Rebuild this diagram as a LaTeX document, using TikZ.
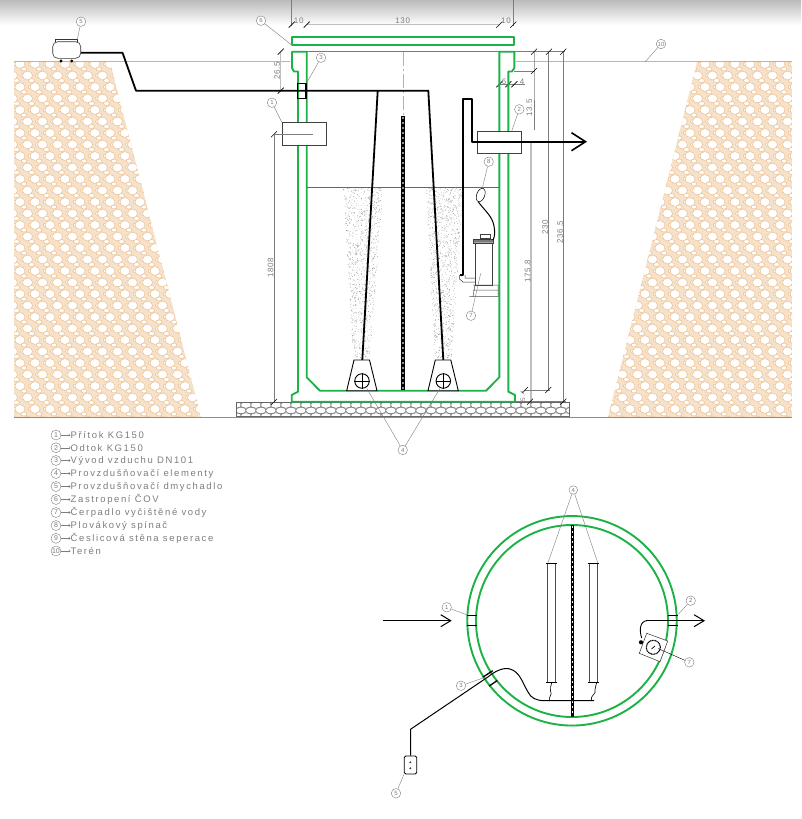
\documentclass[tikz,border=0pt]{standalone}
\usepackage{fontspec}
\setmainfont{Liberation Sans}
\newfontfamily\cadfont[LetterSpace=9]{Liberation Sans}
\newfontfamily\listfont[LetterSpace=17]{Liberation Sans}
\usetikzlibrary{arrows.meta,shapes.geometric}
\definecolor{tank}{RGB}{28,178,70}
\definecolor{soil}{RGB}{236,190,140}
\definecolor{terrain}{RGB}{230,170,120}
\definecolor{cad}{RGB}{125,125,125}
\newcommand{\cobbles}[8]{%
  \foreach \r in {0,...,#1} {
    \foreach \c in {0,...,#2} {
      \pgfmathsetmacro{\px}{#3 + \c*#5 + mod(\r,2)*#5/2}
      \pgfmathsetmacro{\py}{#4 + \r*#6}
      \filldraw [fill = white] (\px,\py) ellipse [x radius=#7, y radius=#8];
    }
  }
}
\begin{document}
\begin{tikzpicture}[
    , x = 1pt
    , y = -1pt
    , wall/.style = {draw = tank, line width = 1.9pt, line join = round}
    , pipe/.style = {draw = black, line width = 1.8pt, line join = round}
    , dimline/.style = {draw = cad, line width = .45pt}
    , tick/.style = {draw = black, line width = .6pt}
    , lead/.style = {draw = cad, line width = .4pt}
    , tag/.style = {
      , draw = cad
      , circle
      , line width = .4pt
      , fill = white
      , inner sep = 0pt
      , minimum size = 9.5pt
      , text = cad
      , font = \fontsize{6}{6}\selectfont
    }
    , dimtext/.style = {text = cad, font = \fontsize{8}{8}\cadfont, inner sep = 0pt}
    , flow/.style = {pipe, -{Straight Barb[length = 14pt, width = 18pt, line width = 1.6pt]}}
    , box/.style = {draw = black!75, line width = .6pt, fill = white, inner sep = 0pt}
    , stone/.style = {draw = soil, line width = .5pt}
  ]
  \useasboundingbox (0,0) rectangle (801,819);
  \shade [top color = black!27, bottom color = white] (0,0) rectangle (801,25);

  % soil
  \begin{scope}[stone]
    \clip (14,62) -- (110,62) -- (201,417) -- (14,417) -- cycle;
    \fill [soil!45] (14,62) rectangle (201,417);
    \cobbles{31}{13}{9}{69}{15}{11.5}{3}{2}
    \cobbles{31}{13}{16}{64}{15}{11.5}{3}{2}
    \cobbles{31}{13}{5}{64}{15}{11.5}{5}{4.4}
  \end{scope}
  \begin{scope}[stone]
    \clip (697,62) -- (792,62) -- (792,417) -- (608,417) -- cycle;
    \fill [soil!45] (608,62) rectangle (792,417);
    \cobbles{31}{13}{604}{69}{15}{11.5}{3}{2}
    \cobbles{31}{13}{611}{64}{15}{11.5}{3}{2}
    \cobbles{31}{13}{600}{64}{15}{11.5}{5}{4.4}
  \end{scope}
  \draw [terrain, line width = .6pt] (14,61.5) -- (290,61.5) (516,61.5) -- (792,61.5);

  % base slab
  \begin{scope}[draw = black!60, line width = .45pt]
    \clip (236.7,402.3) rectangle (569.3,416.7);
    \cobbles{2}{34}{236}{405}{10}{5.5}{5.4}{3.2}
  \end{scope}
  \draw [black!60, line width = .5pt] (236.7,402.3) rectangle (569.3,416.7);
  \draw [black!45, line width = .6pt] (14,417) -- (792,417);

  % dimensions
  \draw [dimline] (291.7,0) -- (291.7,26) (513.3,0) -- (513.3,26);
  \draw [dimline, black!25, line width = 1pt] (306.7,24.7) -- (499.3,24.7);
  \draw [dimline, black!25] (280.7,51.7) -- (280.7,90.7);
  \draw [dimline] (514,51.7) -- (565,51.7) (514,71) -- (535,71) (499,84.3) -- (525,84.3);
  \draw [dimline] (534,51.7) -- (534,71) -- (534,130);
  \draw [dimline, black!25, line width = 1.2pt] (531,141.7) -- (531,401.7);
  \draw [dimline] (548.3,51.7) -- (548.3,390) (563.3,51.7) -- (563.3,401.7);
  \draw [dimline] (525,390) -- (550,390) (515,401.7) -- (566,401.7);
  \draw [dimline] (274,134.3) -- (274,402);
  \foreach \p in {(291.7,24.7),(306.7,24.7),(499.3,24.7),(513.3,24.7),(280.7,51.7),(280.7,90.7),
    (534,51.7),(549,51.7),(563.3,51.7),(534,71),(499.3,84.3),(508.3,84.3),(514.3,84.3),
    (274,134.3),(274,402),(525,390),(548.3,390),(530,401.7),(563.3,401.7)}
    \draw [tick] \p +(-3,3) -- +(3,-3);
  \node (d10a) [dimtext] at (298.7,21) {10};
  \node (d130) [dimtext] at (402.7,21) {130};
  \node (d10b) [dimtext] at (506,21) {10};
  \node (d265) [dimtext, rotate = 90] at (277,71) {26.5};
  \node (d6) [dimtext] at (504,81.5) {6};
  \node (d4) [dimtext] at (522,81.5) {4};
  \node (d135) [dimtext, rotate = 90] at (529.3,108) {13.5};
  \node (d1758) [dimtext, rotate = 90] at (527.5,271) {175.8};
  \node (d230) [dimtext, rotate = 90] at (545,227) {230};
  \node (d2365) [dimtext, rotate = 90] at (560,232) {236.5};
  \node (d1808) [dimtext, rotate = 90] at (270.5,268) {1808};
  \node (d54) [dimtext, rotate = 90, font = \fontsize{6.5}{6.5}\cadfont] at (523,396) {5.4};

  % aeration bubbles
  \pgfmathsetseed{4242}
  \begin{scope}
    \clip (343.3,188) -- (383.3,188) -- (370,358) -- (353.3,358) -- cycle;
    \foreach \i in {1,...,1500}
      \fill [black!55] (343+40*rnd,188+170*rnd) circle [radius = .3pt];
  \end{scope}
  \begin{scope}
    \clip (425.7,188) -- (463.3,188) -- (451.7,358) -- (435,358) -- cycle;
    \foreach \i in {1,...,1500}
      \fill [black!55] (425+39*rnd,188+170*rnd) circle [radius = .3pt];
  \end{scope}

  % tank
  \draw [wall] (291.7,37.3) rectangle (514,45.3);
  \draw [wall, line width = 1.2pt] (292,51.7) -- (514,51.7);
  \draw [wall] (306.7,377.3) -- (306.7,51.7) -- (292,51.7) -- (292,68) -- (294,71.5) -- (298,71.5)
    -- (298,391.7) -- (291.7,395) -- (291.7,401.7) -- (515,401.7) -- (515,395) -- (508.3,391.7)
    -- (508.3,71.5) -- (512,71.5) -- (514.3,68) -- (514.3,51.7) -- (499.3,51.7) -- (499.3,377.3)
    -- (486,390.7) -- (320,390.7) -- cycle;
  \draw [black!60, line width = .5pt] (307,187.5) -- (499,187.5);
  \draw [black!30, line width = .8pt, dash pattern = on 14pt off 3pt on 2pt off 3pt] (403,52) -- (403,115);

  % separation wall
  \draw [black, line width = 3.6pt] (403,116) -- (403,390);
  \draw [black!45, line width = 1.6pt, dash pattern = on 2pt off 3pt] (403,117) -- (403,389);

  % air line
  \coordinate (blowerout) at (81,52.7);
  \draw [pipe] (blowerout) -- (122.5,52.7) -- (136,90.7) -- (428.3,90.7) -- (443.3,360);
  \draw [pipe] (377.7,90.7) -- (362.3,360);
  \node (vent) [draw = black, line width = 1.1pt, minimum width = 8.5pt, minimum height = 15pt, inner sep = 0pt] at (301.7,91.2) {};

  % aerators
  \foreach \n/\cx in {a/362,b/443.3} {
    \draw [draw = black, line width = .9pt, fill = white] (\cx-8,360) -- (\cx+7.5,360) -- (\cx+15,390.7) -- (\cx-15.3,390.7) -- cycle;
    \node (aer\n) [draw = black, line width = .9pt, circle, inner sep = 0pt, minimum size = 14.5pt] at (\cx,381) {};
    \draw [black, line width = .9pt] (aer\n.north) -- (aer\n.south) (aer\n.west) -- (aer\n.east);
  }

  % pump and outlet
  \node (box1) [box, minimum width = 44.7pt, minimum height = 22.7pt] at (304.3,133.6) {};
  \draw [dimline] (274,134.3) -- (313,134.3);
  \node (box2) [box, minimum width = 44.4pt, minimum height = 22.4pt] at (499.5,142.5) {};
  \coordinate (outend) at (587,141.7);
  \draw [pipe] (460,275) -- (462.7,275) -- (462.7,98.7) -- (471.7,98.7) -- (471.7,141.7) -- (560,141.7);
  \draw [flow] (471.7,141.7) -- (outend);
  \node (float) [draw = black, line width = .5pt, ellipse, fill = white, rotate = -20, minimum width = 8pt, minimum height = 14pt, inner sep = 0pt] at (480.7,195) {};
  \node (pump) [box, minimum width = 17pt, minimum height = 42pt] at (483.5,264) {};
  \draw [box] (480,234.3) rectangle (490,238.5);
  \draw [box] (473,239) rectangle (493,243);
  \foreach \h in {474,...,492} \draw [black!80, line width = .4pt] (\h,243) -- (\h+1,239);
  \draw [black!70, line width = .5pt] (473,285) -- (498,285) (473,290) -- (498,290) (469.3,296.7) -- (498,296.7) (475,285) -- (473,296.7) (498,285) -- (498,296.7);
  \draw [black!80, line width = .5pt] (459.5,275) -- (459.5,279) -- (463,282) -- (475,282) (465,275) -- (465,278) -- (475,278);
  \draw [black, line width = 1pt] (float.south) .. controls (486,212) and (492,216) .. (494,226) .. controls (495,232) and (495,236) .. (493,240);

  % callouts side view
  \node (t6) [tag] at (261,20.7) {6};
  \coordinate (p6) at (291.7,45);
  \draw [lead] (t6) -- (p6);
  \node (t3) [tag] at (321,57.7) {3};
  \draw [lead] (t3) -- (vent.north east);
  \node (t1) [tag] at (272,102.7) {1};
  \draw [lead] (t1) -- (box1.north west);
  \node (t2) [tag] at (519.3,109.3) {2};
  \coordinate (p2) at (511.7,131);
  \draw [lead] (t2) -- (p2);
  \node (t8) [tag] at (488.7,161.7) {8};
  \draw [lead] (t8) -- (float);
  \node (t7) [tag] at (471,315.7) {7};
  \coordinate (p7) at (480.7,273.3);
  \draw [lead] (t7) -- (p7);
  \node (t4) [tag] at (402.7,450) {4};
  \coordinate (p4a) at (366.7,388.3);
  \coordinate (p4b) at (440,388.3);
  \draw [lead] (t4) -- (p4a) (t4) -- (p4b);
  \node (t10) [tag] at (661,44) {10};
  \coordinate (p10) at (645,62);
  \draw [lead] (t10) -- (p10);

  % blower
  \node (blower) [draw = black!80, line width = .6pt, fill = white, rounded corners = 5pt, minimum width = 28pt, minimum height = 16.6pt, inner sep = 0pt] at (66.7,50) {};
  \draw [black!80, line width = .6pt] (55,41.7) -- (55,39.3) -- (77,39.3) -- (77,41.7);
  \fill [black] (61,61) circle [radius = 1.6pt] (71.7,61) circle [radius = 1.6pt];
  \node (t5) [tag] at (81,21.7) {5};
  \coordinate (p5) at (77.3,39.3);
  \draw [lead] (t5) -- (p5);

  % legend
  \foreach \n/\y/\txt in {
    1/435/Přítok KG150,
    2/447.7/Odtok KG150,
    3/460.5/Vývod vzduchu DN101,
    4/473.5/Provzdušňovačí elementy,
    5/486.5/Provzdušňovačí dmychadlo,
    6/499.5/Zastropení ČOV,
    7/512.5/Čerpadlo vyčištěné vody,
    8/525.5/Plovákový spínač,
    9/538.3/Česlicová stěna seperace,
    10/551/Terén} {
    \node (lg\n) [tag, minimum size = 10pt, font = \fontsize{7}{7}\selectfont] at (56,\y) {\n};
    \node (tx\n) [anchor = west, inner sep = 0pt, text = cad, font = \fontsize{9.5}{9.5}\listfont] at (70.5,\y) {\txt};
    \draw [lead, -{To[length = 2pt, width = 3pt]}] (lg\n) -- (tx\n);
  }

  % plan view
  \node (outer) [wall, circle, inner sep = 0pt, minimum size = 209.5pt] at (572,620.8) {};
  \node (inner) [wall, circle, inner sep = 0pt, minimum size = 192pt] at (572,621) {};
  \draw [black, line width = 3.2pt] (572.3,525) -- (572.3,717.3);
  \draw [white, line width = .9pt, dash pattern = on 2pt off 3pt] (572.3,526) -- (572.3,716);

  \draw [black!70, line width = .7pt] (547.7,563.3) rectangle (555.3,682.7) (589.3,563.3) rectangle (597.3,682.7);
  \draw [black, line width = 1.5pt] (546,563.3) -- (556.7,563.3) (546,682.7) -- (556.7,682.7) (587.7,563.3) -- (599,563.3) (587.7,682.7) -- (599,682.7);
  \node (u4) [tag, minimum size = 8.5pt] at (573.3,490) {4};
  \coordinate (q4a) at (548,562.7);
  \coordinate (q4b) at (597.7,562.7);
  \draw [lead] (u4) -- (q4a) (u4) -- (q4b);

  \coordinate (inA) at (382.7,620.7);
  \coordinate (inB) at (451.7,620.7);
  \draw [flow, line width = 1.2pt, -{Straight Barb[length = 10pt, width = 12pt, line width = 1pt]}] (inA) -- (inB);
  \draw [black, line width = 1.3pt] (467,615.7) -- (477,615.7) (467,625.7) -- (477,625.7) (668,615.7) -- (677.5,615.7) (668,625.7) -- (677.5,625.7);
  \node (u1) [tag] at (446.7,607.3) {1};
  \coordinate (q1) at (467.3,615);
  \draw [lead] (u1) -- (q1);
  \node (u2) [tag] at (690.7,600.7) {2};
  \coordinate (q2) at (678.3,614.3);
  \draw [lead] (u2) -- (q2);

  \coordinate (outA) at (641.7,638);
  \coordinate (outB) at (705,620.7);
  \draw [black, line width = .9pt] (outA) .. controls (639,630) and (640,621) .. (647,620.7);
  \draw [flow, line width = 1.2pt, -{Straight Barb[length = 10pt, width = 12pt, line width = 1pt]}] (646,620.7) -- (outB);
  \draw [black!80, line width = .5pt, fill = white] (646.7,633.3) -- (667.7,641) -- (660,661.7) -- (639.3,653.3) -- cycle;
  \node (pumpc) [draw = black, line width = 1.2pt, dash pattern = on 1pt off .6pt, circle, inner sep = 0pt, minimum size = 14pt] at (653.3,647.3) {};
  \draw [black, line width = .7pt] (651.5,649) -- (655,646);
  \fill [black] (641,642.3) circle [radius = 2.1pt];
  \node (u7) [tag] at (689.3,662.3) {7};
  \coordinate (q7) at (658,648.5);
  \draw [lead, black] (u7) -- (q7);

  \node (planblower) [draw = black, line width = .8pt, fill = white, rounded corners = 1.5pt, minimum width = 12.4pt, minimum height = 18pt, inner sep = 0pt] at (410.5,765) {};
  \fill [black!75] (410.3,762.3) circle [radius = 1.1pt] (410.3,768.3) circle [radius = 1.1pt];
  \draw [black, line width = 1pt] (planblower.north) -- (410.5,729.3) -- (488.3,676.7) .. controls (495,671) and (504,667) .. (510,669) .. controls (520,672) and (522,682) .. (528,692) .. controls (531,698) and (536,700.7) .. (545,700.7) -- (594,700.7);
  \draw [black, line width = .6pt] (549.5,700.7) .. controls (548,697) and (553,695) .. (550.5,691) .. controls (549,688) and (552,686) .. (551.7,682.7);
  \draw [black, line width = .6pt] (591.7,700.7) .. controls (589,696) and (597,694) .. (595,690) .. controls (594,687) and (597,686) .. (596.7,682.7);
  \draw [black, line width = 1.3pt] (482.7,677.3) -- (492.7,670.7) (489.3,686) -- (497.3,680.5);
  \node (u3) [tag] at (461,685.7) {3};
  \coordinate (q3) at (485,677.3);
  \draw [lead] (u3) -- (q3);
  \node (u5) [tag] at (396,793.3) {5};
  \draw [lead] (u5) -- (planblower.south west);
\end{tikzpicture}
\end{document}
